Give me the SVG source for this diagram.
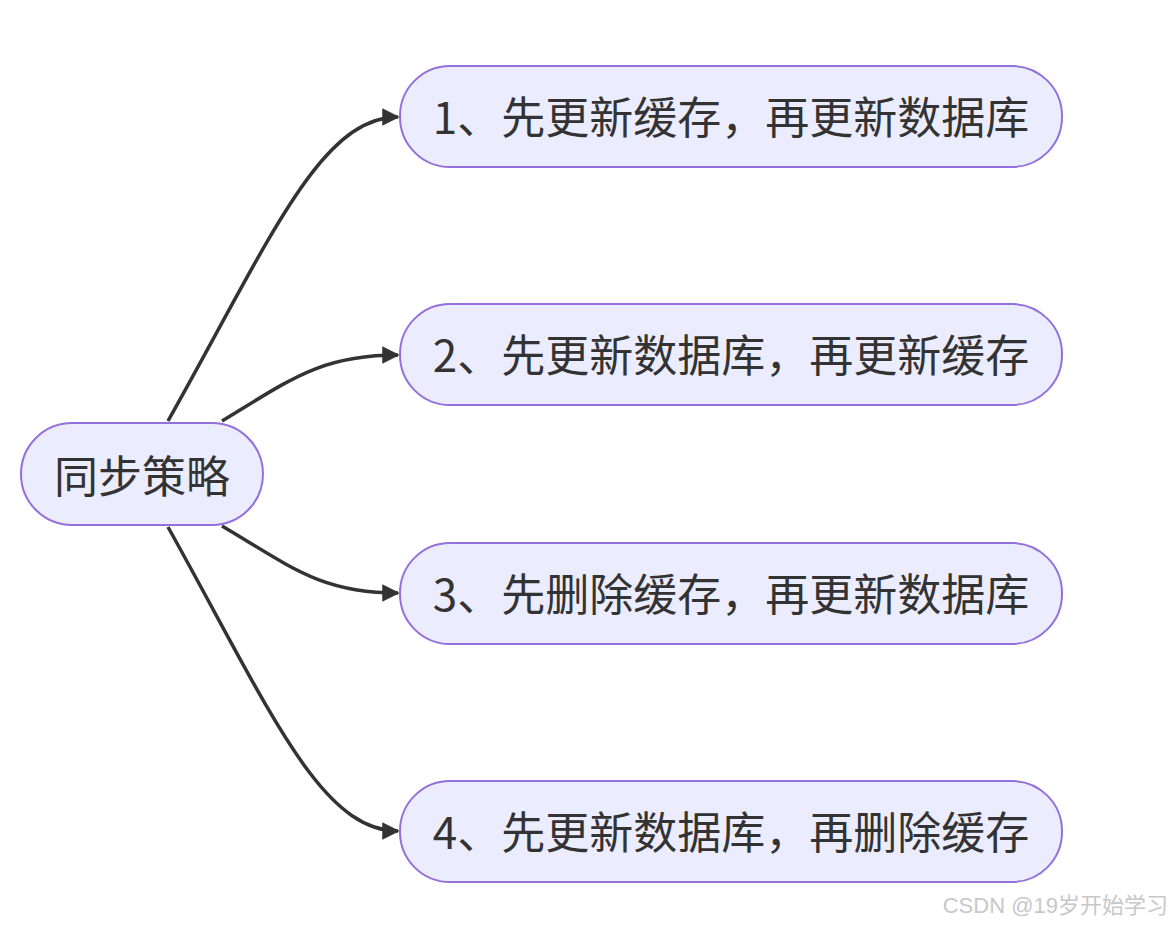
<svg xmlns="http://www.w3.org/2000/svg" width="1173" height="925" viewBox="0 0 1173 925">
<style>
.node rect{fill:#ECECFF;stroke:#9370DB;stroke-width:2}
.node text{font-family:"Noto Sans CJK SC","Liberation Sans",sans-serif;font-size:44px;fill:#333;text-anchor:middle;dominant-baseline:central}
.edge{fill:none;stroke:#333;stroke-width:3.5}
.wm{font-family:"Liberation Sans","Noto Sans CJK SC",sans-serif;font-size:22px;fill:#c8c8c8}
</style>
<defs>
<marker id="arrow" viewBox="0 0 10 10" refX="9" refY="5" markerWidth="5" markerHeight="5" markerUnits="strokeWidth" orient="auto">
<path d="M0,0 L10,5 L0,10 z" fill="#333"/>
</marker>
</defs>
<rect width="1173" height="925" fill="#fff"/>
<g id="connectors">
<path class="edge" marker-end="url(#arrow)" d="M168,421 C270,240 320,117 398,117"/>
<path class="edge" marker-end="url(#arrow)" d="M222,421 C290,380 320,355 398,355"/>
<path class="edge" marker-end="url(#arrow)" d="M222,526 C290,566 320,593 398,593"/>
<path class="edge" marker-end="url(#arrow)" d="M168,527 C270,710 320,831 398,831"/>
</g>
<g id="root" class="node">
<rect x="21" y="423" width="242" height="102" rx="51"/>
<text x="142" y="474">同步策略</text>
</g>
<g id="n1" class="node">
<rect x="400" y="66" width="662" height="101" rx="50"/>
<text x="731" y="115">1、先更新缓存，再更新数据库</text>
</g>
<g id="n2" class="node">
<rect x="400" y="304" width="662" height="101" rx="50"/>
<text x="731" y="353">2、先更新数据库，再更新缓存</text>
</g>
<g id="n3" class="node">
<rect x="400" y="543" width="662" height="101" rx="50"/>
<text x="731" y="592">3、先删除缓存，再更新数据库</text>
</g>
<g id="n4" class="node">
<rect x="400" y="781" width="662" height="101" rx="50"/>
<text x="731" y="830">4、先更新数据库，再删除缓存</text>
</g>
<text class="wm" x="1168" y="913" text-anchor="end">CSDN @19岁开始学习</text>
</svg>
